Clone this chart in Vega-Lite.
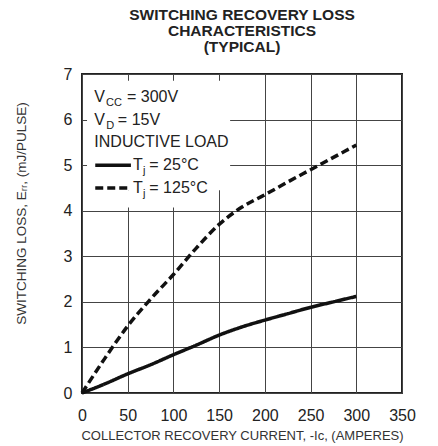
{
  "$schema": "https://vega.github.io/schema/vega-lite/v6.json",
  "width": 320,
  "height": 319,
  "autosize": "none",
  "padding": {"left": 82, "top": 74, "right": 36, "bottom": 53},
  "config": {
    "view": {"stroke": "#222", "strokeWidth": 2},
    "font": "Liberation Sans",
    "title": {"font": "Liberation Sans", "fontSize": 15.5, "fontWeight": "bold", "color": "#222", "lineHeight": 16, "offset": 11, "frame": "group", "anchor": "middle"},
    "axis": {"labelFont": "Liberation Sans", "titleFont": "Liberation Sans", "labelColor": "#222", "titleColor": "#333", "gridColor": "#444", "gridOpacity": 1, "gridWidth": 1, "labelFlush": false, "labelOverlap": false, "ticks": false, "domain": false}
  },
  "title": {"text": ["SWITCHING RECOVERY LOSS", "CHARACTERISTICS", "(TYPICAL)"]},
  "datasets": {
    "curves": [
      {"ic": 0, "e": 0, "tj": "25°C"},
      {"ic": 25, "e": 0.2, "tj": "25°C"},
      {"ic": 50, "e": 0.42, "tj": "25°C"},
      {"ic": 75, "e": 0.62, "tj": "25°C"},
      {"ic": 100, "e": 0.84, "tj": "25°C"},
      {"ic": 125, "e": 1.05, "tj": "25°C"},
      {"ic": 150, "e": 1.27, "tj": "25°C"},
      {"ic": 175, "e": 1.45, "tj": "25°C"},
      {"ic": 200, "e": 1.6, "tj": "25°C"},
      {"ic": 225, "e": 1.74, "tj": "25°C"},
      {"ic": 250, "e": 1.88, "tj": "25°C"},
      {"ic": 275, "e": 2.0, "tj": "25°C"},
      {"ic": 300, "e": 2.12, "tj": "25°C"},
      {"ic": 0, "e": 0, "tj": "125°C"},
      {"ic": 25, "e": 0.76, "tj": "125°C"},
      {"ic": 50, "e": 1.47, "tj": "125°C"},
      {"ic": 75, "e": 2.06, "tj": "125°C"},
      {"ic": 100, "e": 2.6, "tj": "125°C"},
      {"ic": 125, "e": 3.18, "tj": "125°C"},
      {"ic": 150, "e": 3.7, "tj": "125°C"},
      {"ic": 175, "e": 4.08, "tj": "125°C"},
      {"ic": 200, "e": 4.35, "tj": "125°C"},
      {"ic": 225, "e": 4.63, "tj": "125°C"},
      {"ic": 250, "e": 4.9, "tj": "125°C"},
      {"ic": 275, "e": 5.17, "tj": "125°C"},
      {"ic": 300, "e": 5.44, "tj": "125°C"}
    ],
    "box": [
      {"x0": 5.5, "x1": 162, "y0": 4.45, "y1": 6.85},
      {"x0": 5.5, "x1": 145, "y0": 4.07, "y1": 4.45}
    ],
    "keys": [
      {"x0": 14.5, "x1": 53.5, "y": 5, "tj": "25°C"},
      {"x0": 14.5, "x1": 53.5, "y": 4.5, "tj": "125°C"}
    ],
    "labels": [
      {"x": 13.5, "y": 6.5, "t": "V"},
      {"x": 49.2, "y": 6.5, "t": "= 300V"},
      {"x": 13.5, "y": 6, "t": "V"},
      {"x": 39.2, "y": 6, "t": "= 15V"},
      {"x": 13.5, "y": 5.5, "t": "INDUCTIVE LOAD"},
      {"x": 55.8, "y": 5, "t": "T"},
      {"x": 73.6, "y": 5, "t": "= 25°C"},
      {"x": 55.8, "y": 4.5, "t": "T"},
      {"x": 73.6, "y": 4.5, "t": "= 125°C"}
    ],
    "subs": [
      {"x": 26.2, "y": 6.5, "t": "CC"},
      {"x": 26.4, "y": 6, "t": "D"},
      {"x": 66.7, "y": 5, "t": "j"},
      {"x": 66.7, "y": 4.5, "t": "j"}
    ]
  },
  "layer": [
    {
      "data": {"name": "box"},
      "mark": {"type": "rect", "fill": "white", "stroke": null},
      "encoding": {
        "x": {"field": "x0", "type": "quantitative", "scale": {"domain": [0, 350], "nice": false, "zero": false},
          "axis": {"orient": "bottom", "grid": true, "labelFontSize": 16, "labelPadding": 14, "values": [0, 50, 100, 150, 200, 250, 300, 350], "title": "COLLECTOR RECOVERY CURRENT, -Iᴄ, (AMPERES)", "titleFontSize": 13, "titleFontWeight": "normal", "titlePadding": 6}},
        "x2": {"field": "x1"},
        "y": {"field": "y0", "type": "quantitative", "scale": {"domain": [0, 7], "nice": false, "zero": false},
          "axis": {"orient": "left", "grid": true, "labelFontSize": 16, "labelPadding": 10, "values": [0, 1, 2, 3, 4, 5, 6, 7], "title": "SWITCHING LOSS, Eᵣᵣ, (mJ/PULSE)", "titleFontSize": 13.5, "titleFontWeight": "normal", "titlePadding": 35, "titleY": 139}},
        "y2": {"field": "y1"}
      }
    },
    {
      "data": {"name": "curves"},
      "mark": {"type": "line", "interpolate": "monotone", "strokeWidth": 3.5, "color": "#111", "strokeCap": "butt"},
      "encoding": {
        "x": {"field": "ic", "type": "quantitative"},
        "y": {"field": "e", "type": "quantitative"},
        "strokeDash": {"field": "tj", "type": "nominal", "scale": {"domain": ["25°C", "125°C"], "range": [[1, 0], [8, 4]]}, "legend": null},
        "detail": {"field": "tj"}
      }
    },
    {
      "data": {"name": "keys"},
      "mark": {"type": "rule", "strokeWidth": 3.5, "color": "#111", "strokeCap": "butt"},
      "encoding": {
        "x": {"field": "x0", "type": "quantitative"},
        "x2": {"field": "x1"},
        "y": {"field": "y", "type": "quantitative"},
        "strokeDash": {"field": "tj", "type": "nominal", "legend": null}
      }
    },
    {
      "data": {"name": "labels"},
      "mark": {"type": "text", "align": "left", "baseline": "middle", "fontSize": 16, "font": "Liberation Sans", "color": "#222"},
      "encoding": {
        "x": {"field": "x", "type": "quantitative"},
        "y": {"field": "y", "type": "quantitative"},
        "text": {"field": "t"}
      }
    },
    {
      "data": {"name": "subs"},
      "mark": {"type": "text", "align": "left", "baseline": "middle", "fontSize": 11, "dy": 6, "font": "Liberation Sans", "color": "#222"},
      "encoding": {
        "x": {"field": "x", "type": "quantitative"},
        "y": {"field": "y", "type": "quantitative"},
        "text": {"field": "t"}
      }
    }
  ]
}
